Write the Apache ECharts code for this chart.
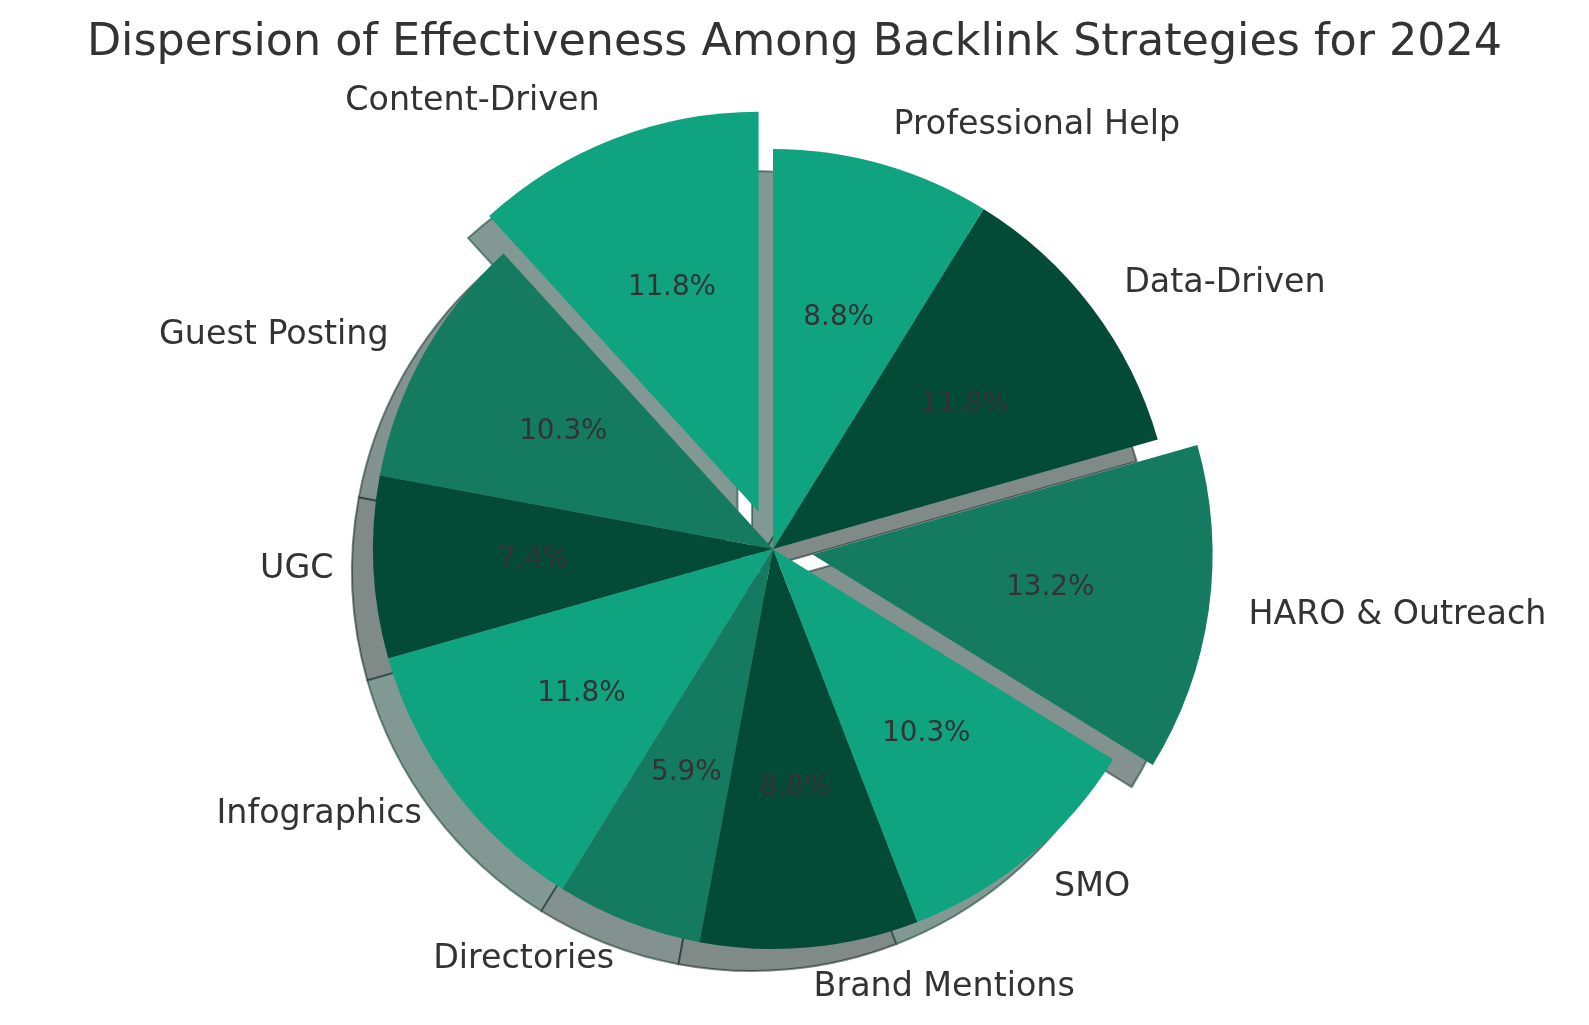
<!DOCTYPE html>
<html>
<head>
<meta charset="utf-8">
<script src="https://cdn.jsdelivr.net/npm/echarts@6/dist/echarts.min.js"></script>
<style>
html,body{margin:0;padding:0;background:#ffffff;}
#chart{width:1589px;height:1025px;}
</style>
</head>
<body>
<div id="chart"></div>
<script>
// ---- data ----
const categories = ['Content-Driven', 'Guest Posting', 'UGC', 'Infographics', 'Directories',
  'Brand Mentions', 'SMO', 'HARO & Outreach', 'Data-Driven', 'Professional Help'];
const values = [8, 7, 5, 8, 4, 6, 7, 9, 8, 6];
const explodedCategories = ['Content-Driven', 'HARO & Outreach'];
const titleText = 'Dispersion of Effectiveness Among Backlink Strategies for 2024';

// ---- style ----
const palette = ['#10a37f', '#147a60', '#034a37'];
const FONT = 'DejaVu Sans';
const CX = 773, CY = 549, R = 400, EXPLODE = 40, SH_DX = -21, SH_DY = 22;
const total = values.reduce((a, b) => a + b, 0);

function hexToRgb(h) {
  return [parseInt(h.slice(1, 3), 16), parseInt(h.slice(3, 5), 16), parseInt(h.slice(5, 7), 16)];
}
function shadowFill(h) {
  const c = hexToRgb(h).map(v => Math.round(0.5 * 255 + 0.5 * 0.3 * v));
  return 'rgb(' + c.join(',') + ')';
}
function shadowEdge(h) {
  const c = hexToRgb(h).map(v => Math.round(0.3 * v));
  return 'rgba(' + c.join(',') + ',0.5)';
}
function makeData(styleFn) {
  return categories.map((name, i) => ({
    name: name,
    value: values[i],
    selected: explodedCategories.indexOf(name) >= 0,
    itemStyle: styleFn(i)
  }));
}

const common = {
  type: 'pie',
  startAngle: 90,
  clockwise: false,
  selectedMode: 'multiple',
  selectedOffset: EXPLODE,
  silent: true,
  avoidLabelOverlap: false,
  emphasis: { disabled: true },
  padAngle: 0
};

const chart = echarts.init(document.getElementById('chart'), null, { renderer: 'canvas' });
chart.setOption({
  animation: false,
  backgroundColor: '#ffffff',
  title: {
    text: titleText,
    left: 'center',
    top: 21,
    padding: 0,
    textStyle: { fontFamily: FONT, fontSize: 44.4, fontWeight: 'normal', color: '#333333' }
  },
  series: [
    Object.assign({}, common, {
      name: 'shadow',
      center: [CX + SH_DX, CY + SH_DY],
      radius: R,
      label: { show: false },
      labelLine: { show: false },
      data: makeData(i => ({
        color: shadowFill(palette[i % 3]),
        borderColor: shadowEdge(palette[i % 3]),
        borderWidth: 2
      }))
    }),
    Object.assign({}, common, {
      name: 'main',
      center: [CX, CY],
      radius: R,
      label: {
        show: true,
        position: 'outside',
        formatter: '{b}',
        distanceToLabelLine: 0,
        fontFamily: FONT,
        fontSize: 33.3,
        color: '#333333',
        textBorderWidth: 0,
        padding: [6, 0, 0, 0]
      },
      labelLine: { show: false, length: R * 0.1, length2: 0 },
      data: makeData(i => ({ color: palette[i % 3], borderWidth: 0 }))
    }),
    Object.assign({}, common, {
      name: 'pct',
      center: [CX, CY],
      radius: R * 1.2 - 6,
      label: {
        show: true,
        position: 'inside',
        formatter: p => (p.value / total * 100).toFixed(1) + '%',
        fontFamily: FONT,
        fontSize: 27.8,
        color: '#333333',
        textBorderWidth: 0,
        padding: [3, 0, 0, 0]
      },
      labelLine: { show: false },
      data: makeData(i => ({ color: 'rgba(0,0,0,0)', borderWidth: 0 }))
    })
  ]
});
</script>
</body>
</html>
